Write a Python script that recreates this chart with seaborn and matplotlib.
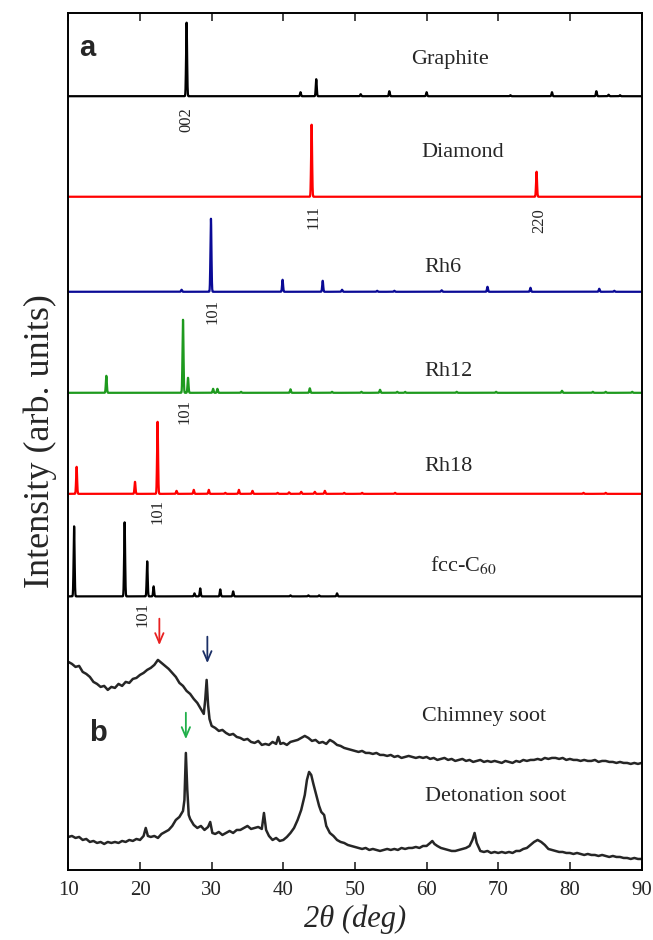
import numpy as np
import pandas as pd
import matplotlib
matplotlib.use("Agg")
import matplotlib.pyplot as plt
import seaborn as sns

# ---------------- data ----------------
# stick-like simulated patterns: peak positions (2theta, deg) and heights (arb. units)
graphite_pos = [26.5, 42.4, 44.6, 50.8, 54.8, 60.0, 71.7, 77.5, 83.7, 85.4, 87.0]
graphite_h = [73.5, 4, 17, 2, 5, 4, 1, 4, 5, 1.5, 1]

diamond_pos = [43.95, 75.35]
diamond_h = [72, 25]

rh6_pos = [25.8, 29.9, 39.9, 45.5, 48.2, 53.1, 55.5, 62.1, 68.5, 74.5, 84.1, 86.2]
rh6_h = [2, 73, 12, 11, 2, 1, 1, 1.5, 5, 4, 3, 1]

rh12_pos = [15.3, 26.0, 26.7, 30.2, 30.8, 34.1, 41.0, 43.7, 46.8, 50.9, 53.5, 55.9, 57.0,
            64.2, 69.7, 78.9, 83.2, 85.0, 88.7]
rh12_h = [17, 73, 15, 4, 4, 1, 3.5, 4.5, 1, 1, 3, 1, 1, 1, 1, 2, 1, 1, 1]

rh18_pos = [11.15, 19.3, 22.45, 25.1, 27.5, 29.6, 31.9, 33.8, 35.7, 39.2, 40.8, 42.5,
            44.4, 45.8, 48.5, 51.0, 55.6, 81.9, 85.0]
rh18_h = [27, 12, 72, 3, 4, 4, 1, 4, 3, 1, 1.5, 2, 2, 3, 1, 1, 1, 1, 1]

fcc_pos = [10.8, 17.85, 21.0, 21.9, 27.6, 28.4, 31.2, 33.0, 41.0, 43.5, 45.0, 47.5]
fcc_h = [70, 74, 35, 10, 3, 8, 7, 5, 1, 1, 1, 3]

chimney_x = [10.0, 10.5, 11.0, 11.5, 12.0, 12.5, 13.0, 13.5, 14.0, 14.5, 15.0, 15.5, 16.0, 16.5,
             17.0, 17.5, 18.0, 18.5, 19.0, 19.5, 20.0, 20.5, 21.0, 21.5, 22.0, 22.5, 23.0, 23.5,
             24.0, 24.5, 25.0, 25.5, 26.0, 26.5, 27.0, 27.5, 28.0, 28.5, 28.9, 29.1, 29.3, 29.5,
             29.7, 30.0, 30.5, 31.0, 31.5, 32.0, 32.5, 33.0, 33.5, 34.0, 34.5, 35.0, 35.5, 36.0,
             36.5, 37.0, 37.5, 38.0, 38.5, 39.0, 39.3, 39.6, 40.0, 40.5, 41.0, 41.5, 42.0, 42.5,
             43.0, 43.5, 44.0, 44.5, 45.0, 45.5, 46.0, 46.5, 47.0, 47.5, 48.0, 48.5, 49.0, 49.5,
             50.0, 50.5, 51.0, 51.5, 52.0, 52.5, 53.0, 53.5, 54.0, 54.5, 55.0, 55.5, 56.0, 56.5,
             57.0, 57.5, 58.0, 58.5, 59.0, 59.5, 60.0, 60.5, 61.0, 61.5, 62.0, 62.5, 63.0, 63.5,
             64.0, 64.5, 65.0, 65.5, 66.0, 66.5, 67.0, 67.5, 68.0, 68.5, 69.0, 69.5, 70.0, 70.5,
             71.0, 71.5, 72.0, 72.5, 73.0, 73.5, 74.0, 74.5, 75.0, 75.5, 76.0, 76.5, 77.0, 77.5,
             78.0, 78.5, 79.0, 79.5, 80.0, 80.5, 81.0, 81.5, 82.0, 82.5, 83.0, 83.5, 84.0, 84.5,
             85.0, 85.5, 86.0, 86.5, 87.0, 87.5, 88.0, 88.5, 89.0, 89.5, 90.0]
chimney_y = [208, 206, 203, 204, 198, 196, 193, 188, 186, 183, 184, 180, 183, 182,
             186, 184, 188, 187, 191, 192, 195, 197, 200, 202, 205, 210, 207, 204,
             201, 197, 193, 187, 184, 179, 176, 171, 167, 161, 156, 170, 190, 165,
             151, 144, 142, 139, 140, 137, 135, 136, 133, 132, 130, 131, 128, 127,
             129, 125, 126, 125, 128, 126, 133, 126, 127, 125, 128, 129, 130, 132,
             134, 132, 129, 130, 127, 128, 126, 130, 128, 125, 124, 122, 121, 120,
             119, 118, 119, 117, 117, 116, 117, 115, 115, 114, 115, 113, 114, 112,
             113, 114, 113, 112, 113, 112, 113, 111, 112, 110, 111, 112, 110, 111,
             109, 110, 111, 109, 110, 108, 109, 110, 108, 109, 108, 109, 108, 107,
             109, 108, 107, 109, 108, 110, 109, 110, 110, 111, 110, 112, 111, 112,
             112, 111, 112, 110, 111, 110, 110, 109, 110, 109, 109, 110, 108, 109,
             109, 108, 108, 107, 108, 107, 107, 106, 107, 106, 107]

detonation_x = [10.0, 10.5, 11.0, 11.5, 12.0, 12.5, 13.0, 13.5, 14.0, 14.5, 15.0, 15.5, 16.0, 16.5,
                17.0, 17.5, 18.0, 18.5, 19.0, 19.5, 20.0, 20.5, 20.8, 21.1, 21.5, 22.0, 22.5, 23.0,
                23.5, 24.0, 24.5, 25.0, 25.5, 26.0, 26.2, 26.4, 26.6, 26.8, 27.0, 27.5, 28.0, 28.5,
                29.0, 29.5, 29.8, 30.1, 30.5, 31.0, 31.5, 32.0, 32.5, 33.0, 33.5, 34.0, 34.5, 35.0,
                35.5, 36.0, 36.5, 37.0, 37.3, 37.6, 38.0, 38.5, 39.0, 39.5, 40.0, 40.5, 41.0, 41.5,
                42.0, 42.5, 43.0, 43.3, 43.6, 43.9, 44.2, 44.6, 45.0, 45.3, 45.7, 46.0, 46.5, 47.0,
                47.5, 48.0, 48.5, 49.0, 49.5, 50.0, 50.5, 51.0, 51.5, 52.0, 52.5, 53.0, 53.5, 54.0,
                54.5, 55.0, 55.5, 56.0, 56.5, 57.0, 57.5, 58.0, 58.5, 59.0, 59.5, 60.0, 60.5, 60.8,
                61.1, 61.5, 62.0, 62.5, 63.0, 63.5, 64.0, 64.5, 65.0, 65.5, 66.0, 66.4, 66.7, 67.0,
                67.5, 68.0, 68.5, 69.0, 69.5, 70.0, 70.5, 71.0, 71.5, 72.0, 72.5, 73.0, 73.5, 74.0,
                74.5, 75.0, 75.5, 76.0, 76.5, 77.0, 77.5, 78.0, 78.5, 79.0, 79.5, 80.0, 80.5, 81.0,
                81.5, 82.0, 82.5, 83.0, 83.5, 84.0, 84.5, 85.0, 85.5, 86.0, 86.5, 87.0, 87.5, 88.0,
                88.5, 89.0, 89.5, 90.0]
detonation_y = [33, 34, 32, 33, 30, 31, 28, 29, 27, 28, 26, 28, 27, 28,
                27, 29, 28, 30, 29, 31, 30, 34, 42, 34, 33, 34, 32, 36,
                38, 40, 44, 50, 53, 59, 70, 117, 80, 55, 51, 45, 42, 44,
                40, 43, 48, 37, 36, 38, 35, 37, 39, 37, 40, 40, 42, 44,
                41, 42, 43, 41, 57, 40, 34, 30, 32, 29, 30, 33, 37, 42,
                50, 60, 75, 90, 98, 95, 86, 75, 64, 58, 55, 44, 37, 34,
                30, 28, 27, 25, 24, 23, 22, 21, 22, 20, 21, 20, 19, 20,
                21, 20, 21, 20, 22, 21, 22, 22, 23, 22, 24, 24, 27, 29,
                26, 24, 22, 21, 20, 19, 19, 20, 21, 22, 24, 30, 37, 27,
                19, 18, 19, 17, 18, 17, 18, 17, 18, 17, 19, 19, 21, 22,
                25, 28, 30, 28, 25, 21, 20, 19, 18, 18, 17, 17, 16, 17,
                16, 15, 16, 15, 15, 14, 15, 14, 13, 14, 13, 13, 12, 12,
                11, 12, 11, 11]

pattern_names = ["Graphite", "Diamond", "Rh6", "Rh12", "Rh18", "fcc-C60"]
pattern_offsets = [773.5, 673, 578, 477, 376, 273.5]
pattern_colors = ["#000000", "#ff0000", "#0a0a96", "#1e9a1e", "#ff0000", "#000000"]
pattern_peaks = [(graphite_pos, graphite_h), (diamond_pos, diamond_h), (rh6_pos, rh6_h),
                 (rh12_pos, rh12_h), (rh18_pos, rh18_h), (fcc_pos, fcc_h)]

# ---------------- style ----------------
sns.set_style("ticks")
plt.rcParams["font.family"] = ["Liberation Serif", "DejaVu Serif"]
plt.rcParams["mathtext.fontset"] = "stix"

fig = plt.figure(figsize=(6.53, 9.40), dpi=100)
ax = fig.add_axes([0.1047, 0.0745, 0.8777, 0.912])

grid = np.arange(10, 90.0001, 0.01)
frames = []
for name, off, (pos, hts) in zip(pattern_names, pattern_offsets, pattern_peaks):
    y = np.full_like(grid, off)
    for p, h in zip(pos, hts):
        y += h * np.exp(-0.5 * ((grid - p) / 0.07) ** 2)
    frames.append(pd.DataFrame({"x": grid, "y": y, "name": name}))
df = pd.concat(frames, ignore_index=True)

for name, col in zip(pattern_names, pattern_colors):
    sub = df[df["name"] == name]
    sns.lineplot(data=sub, x="x", y="y", color=col, lw=1.6, ax=ax,
                 estimator=None, sort=False)

soot = pd.concat([
    pd.DataFrame({"x": chimney_x, "y": chimney_y, "name": "Chimney soot"}),
    pd.DataFrame({"x": detonation_x, "y": detonation_y, "name": "Detonation soot"}),
])
for name in ["Chimney soot", "Detonation soot"]:
    sub = soot[soot["name"] == name]
    sns.lineplot(data=sub, x="x", y="y", color="#262626", lw=1.8, ax=ax,
                 estimator=None, sort=False)

ax.set_xlim(10, 90)
ax.set_ylim(0, 857)
ax.set_xticks(np.arange(10, 91, 10))
ax.set_yticks([])
ax.tick_params(axis="x", direction="in", length=6, width=1.2, top=True,
               labelsize=15, pad=8)
for sp in ax.spines.values():
    sp.set_linewidth(1.4)
    sp.set_color("black")

ax.set_xlabel("2θ (deg)", fontsize=22, style="italic", labelpad=3)
ax.set_ylabel("Intensity (arb. units)", fontsize=26, labelpad=8)

# series labels
lab_kw = dict(fontsize=16, ha="center", va="center")
ax.text(63.3, 810, "Graphite", **lab_kw)
ax.text(65.0, 717, "Diamond", **lab_kw)
ax.text(62.3, 602, "Rh6", **lab_kw)
ax.text(63.0, 498, "Rh12", **lab_kw)
ax.text(63.0, 403, "Rh18", **lab_kw)
ax.text(65.1, 305, "fcc-C$_{60}$", **lab_kw)
ax.text(68.0, 153, "Chimney soot", **lab_kw)
ax.text(69.6, 73, "Detonation soot", **lab_kw)

# reflection indices
idx_kw = dict(fontsize=12, ha="center", va="center", rotation=90)
ax.text(26.5, 750, "002", **idx_kw)
ax.text(44.2, 653, "111", **idx_kw)
ax.text(75.7, 649, "220", **idx_kw)
ax.text(30.15, 558, "101", **idx_kw)
ax.text(26.15, 458, "101", **idx_kw)
ax.text(22.4, 358, "101", **idx_kw)
ax.text(20.35, 255, "101", **idx_kw)

# panel letters
ax.text(12.6, 822, "a", fontsize=21, fontweight="bold", family="Liberation Sans",
        ha="center", va="center")
ax.text(14.1, 137, "b", fontsize=21, fontweight="bold", family="Liberation Sans",
        ha="center", va="center")

# arrows
for xa, y0, y1, c in [(22.7, 254, 222, "#e82020"), (29.4, 236, 204, "#1a2f66"),
                      (26.4, 160, 128, "#20b04a")]:
    ax.annotate("", xy=(xa, y1), xytext=(xa, y0),
                arrowprops=dict(arrowstyle="->,head_length=0.7,head_width=0.3",
                                color=c, lw=1.3))

fig.savefig("out.png", dpi=100)
